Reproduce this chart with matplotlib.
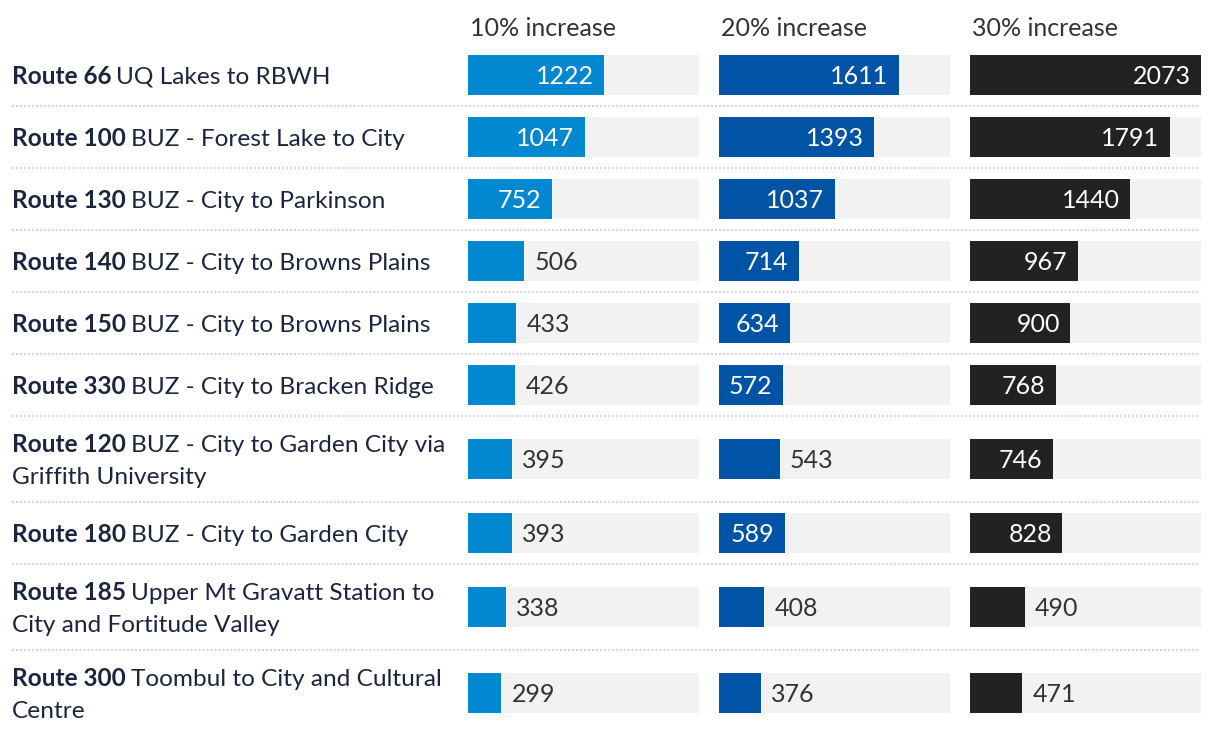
import matplotlib
matplotlib.use("Agg")
import matplotlib.pyplot as plt

# ---------------- data ----------------
routes = ["Route 66", "Route 100", "Route 130", "Route 140", "Route 150",
          "Route 330", "Route 120", "Route 180", "Route 185", "Route 300"]
descriptions = [
    "UQ Lakes to RBWH",
    "BUZ - Forest Lake to City",
    "BUZ - City to Parkinson",
    "BUZ - City to Browns Plains",
    "BUZ - City to Browns Plains",
    "BUZ - City to Bracken Ridge",
    "BUZ - City to Garden City via\nGriffith University",
    "BUZ - City to Garden City",
    "Upper Mt Gravatt Station to\nCity and Fortitude Valley",
    "Toombul to City and Cultural\nCentre",
]
series_names = ["10% increase", "20% increase", "30% increase"]
inc10 = [1222, 1047, 752, 506, 433, 426, 395, 393, 338, 299]
inc20 = [1611, 1393, 1037, 714, 634, 572, 543, 589, 408, 376]
inc30 = [2073, 1791, 1440, 967, 900, 768, 746, 828, 490, 471]
series = [inc10, inc20, inc30]

# ---------------- style ----------------
colors = ["#0288d1", "#0153a5", "#222222"]
bg_color = "#f2f2f2"
label_color = "#1b2440"
value_color = "#333333"
FONT = ["Lato", "DejaVu Sans"]
FS = 17.6
FSV = 18.0

W, H = 1220, 736
fig = plt.figure(figsize=(W / 100, H / 100), dpi=100)
fig.patch.set_facecolor("white")

# layout (pixel units)
top0 = 44
base_h, extra_h, line_sp = 62, 24, 32
nlines = [1 + d.count("\n") for d in descriptions]
row_tops, row_centers = [], []
y = top0
for n in nlines:
    h = base_h + extra_h * (n - 1)
    row_tops.append(y)
    row_centers.append(y + h / 2)
    y += h

ax0 = fig.add_axes([0, 0, 1, 1])
ax0.set_xlim(0, W)
ax0.set_ylim(H, 0)
ax0.axis("off")

# separators
for t in row_tops[1:]:
    ax0.plot([12, 1200], [t, t], color="#d0d0d0", lw=1.3, ls=(0, (1, 1.2)), zorder=1)

# labels
fig.canvas.draw()
renderer = fig.canvas.get_renderer()
inv = ax0.transData.inverted()
for i, (r, d) in enumerate(zip(routes, descriptions)):
    lines = d.split("\n")
    n = len(lines)
    y_first = row_centers[i] - line_sp * (n - 1) / 2
    bt = ax0.text(12, y_first, r, fontsize=FS, fontweight="bold", family=FONT,
                  color=label_color, va="center_baseline", ha="left")
    bb = bt.get_window_extent(renderer)
    x_end = inv.transform((bb.x1, bb.y0))[0]
    ax0.text(x_end + 5, y_first, lines[0], fontsize=FS, family=FONT,
             color=label_color, va="center_baseline", ha="left")
    for k, ln in enumerate(lines[1:], start=1):
        ax0.text(12, y_first + k * line_sp, ln, fontsize=FS, family=FONT,
                 color=label_color, va="center_baseline", ha="left")

# bar columns
vmax = max(max(s) for s in series)
col_left0, col_w, col_gap = 468, 231, 20
threshold = 560
for j, (name, vals) in enumerate(zip(series_names, series)):
    left = col_left0 + j * (col_w + col_gap)
    ax = fig.add_axes([left / W, 0, col_w / W, 1])
    ax.set_xlim(0, vmax)
    ax.set_ylim(H, 0)
    ax.axis("off")
    ax.patch.set_alpha(0)
    ax.barh(row_centers, [vmax] * len(vals), height=40, left=0, color=bg_color, zorder=1)
    ax.barh(row_centers, vals, height=40, left=0, color=colors[j], zorder=2)
    for yc, v in zip(row_centers, vals):
        if v >= threshold:
            ax.annotate(str(v), xy=(v, yc), xytext=(-7.5, 0), textcoords="offset points",
                        ha="right", va="center_baseline", color="white",
                        fontsize=FSV, family=FONT, zorder=3)
        else:
            ax.annotate(str(v), xy=(v, yc), xytext=(7.5, 0), textcoords="offset points",
                        ha="left", va="center_baseline", color=value_color,
                        fontsize=FSV, family=FONT, zorder=3)
    ax.text(2 / col_w * vmax, 27, name, fontsize=FSV, family=FONT, color=value_color,
            ha="left", va="center_baseline")

fig.savefig("out.png", dpi=100, facecolor="white")
